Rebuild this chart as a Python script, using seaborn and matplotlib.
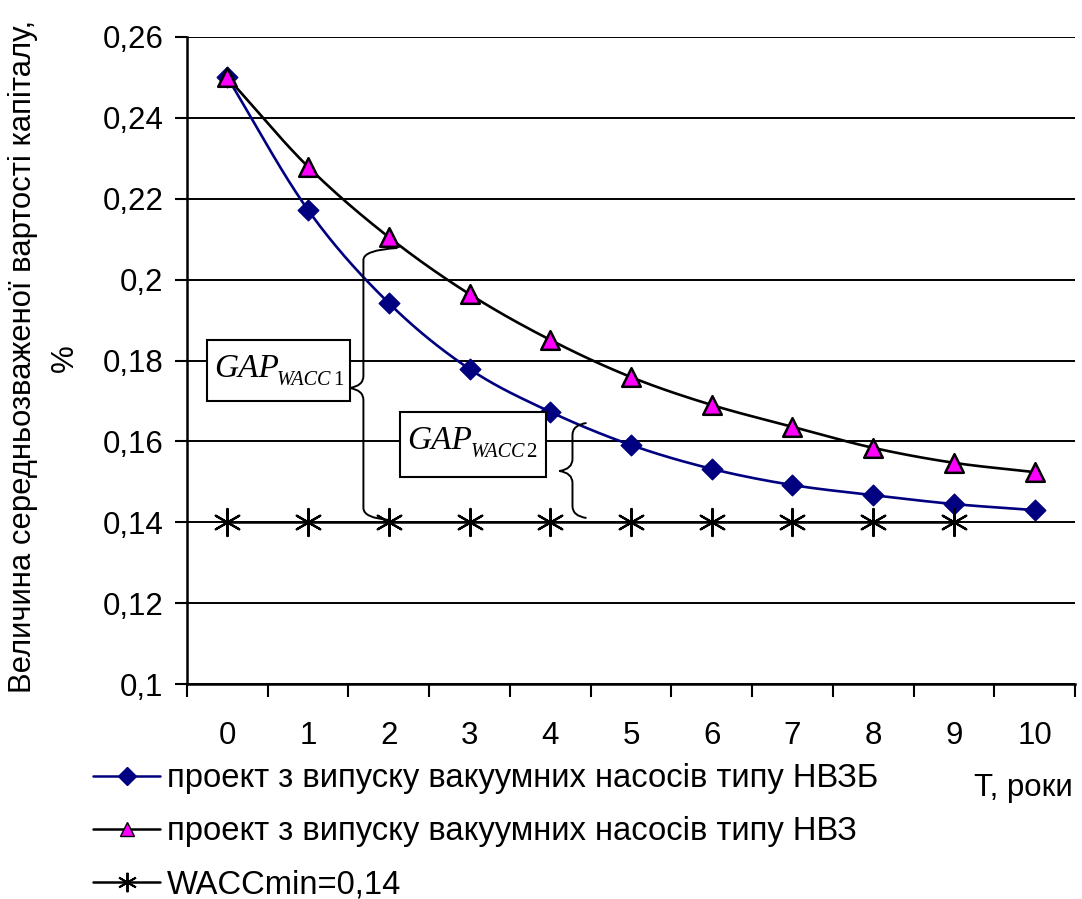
import numpy as np
import pandas as pd
import matplotlib
matplotlib.use("Agg")
import matplotlib.pyplot as plt
import seaborn as sns
from matplotlib.lines import Line2D
from matplotlib.path import Path
from matplotlib.patches import PathPatch
from matplotlib.ticker import FuncFormatter, FixedLocator

# ---- data ----
years = [0, 1, 2, 3, 4, 5, 6, 7, 8, 9, 10]
nvzb = [0.250, 0.2172, 0.1942, 0.1779, 0.1673, 0.1591, 0.1532, 0.1492, 0.1467, 0.1445, 0.1430]
nvz = [0.250, 0.2279, 0.2105, 0.1964, 0.1851, 0.1759, 0.1690, 0.1636, 0.1584, 0.1547, 0.1524]
wacc_years = [0, 1, 2, 3, 4, 5, 6, 7, 8, 9]
wacc = [0.14] * 10
label_nvzb = "проект з випуску вакуумних насосів типу НВЗБ"
label_nvz = "проект з випуску вакуумних насосів типу НВЗ"
label_wacc = "WACCmin=0,14"
ylabel_1 = "Величина середньозваженої вартості капіталу,"
ylabel_2 = "%"
xlabel = "T, роки"
yticks = [0.10, 0.12, 0.14, 0.16, 0.18, 0.20, 0.22, 0.24, 0.26]

sns.set_theme(style="white")
plt.rcParams['font.family'] = ['Liberation Sans', 'DejaVu Sans']
plt.rcParams['text.color'] = 'black'
plt.rcParams['xtick.color'] = 'black'
plt.rcParams['ytick.color'] = 'black'

FS = 22.5
FSL = 23.6
fig = plt.figure(figsize=(10.82, 8.99), dpi=100)
ax = fig.add_axes([187/1082, 1-684/899, (1075-187)/1082, (684-37)/899])


def smooth(x, y, n=20):
    x = np.asarray(x, float); y = np.asarray(y, float)
    px = np.concatenate([[2*x[0]-x[1]], x, [2*x[-1]-x[-2]]])
    py = np.concatenate([[2*y[0]-y[1]], y, [2*y[-1]-y[-2]]])
    xs, ys = [], []
    for i in range(1, len(px)-2):
        t = np.linspace(0, 1, n, endpoint=False)
        for arr, out in ((px, xs), (py, ys)):
            p0, p1, p2, p3 = arr[i-1], arr[i], arr[i+1], arr[i+2]
            out.extend(0.5*((2*p1) + (-p0+p2)*t + (2*p0-5*p1+4*p2-p3)*t**2 + (-p0+3*p1-3*p2+p3)*t**3))
    xs.append(x[-1]); ys.append(y[-1])
    return np.array(xs), np.array(ys)

ax.set_ylim(0.10, 0.26)
ax.set_xlim(-0.5, 10.5)
ax.yaxis.set_major_locator(FixedLocator(yticks))
ax.grid(axis='y', color='black', lw=1.4)
ax.grid(axis='x', visible=False)
ax.set_axisbelow(True)

sx, sy = smooth(years, nvzb)
ax.plot(sx, sy, color='#000080', lw=1.9, zorder=3)
sx, sy = smooth(years, nvz)
ax.plot(sx, sy, color='black', lw=1.9, zorder=3)
ax.plot(wacc_years, wacc, color='black', lw=1.8, zorder=3)

df1 = pd.DataFrame({'x': years, 'y': nvzb})
df2 = pd.DataFrame({'x': years, 'y': nvz})
df3 = pd.DataFrame({'x': wacc_years, 'y': wacc})
sns.scatterplot(data=df1, x='x', y='y', ax=ax, marker='D', s=110, color='#000080',
                edgecolor='#000080', linewidth=1, zorder=4)
sns.scatterplot(data=df2, x='x', y='y', ax=ax, marker='^', s=180, color='#FF00FF',
                edgecolor='black', linewidth=1.8, zorder=5)
sns.scatterplot(data=df3, x='x', y='y', ax=ax, marker=(6, 2, 0), s=380, color='black',
                edgecolor='black', linewidth=1.6, zorder=4)

for s in ['top', 'right']:
    ax.spines[s].set_visible(False)
for s in ['left', 'bottom']:
    ax.spines[s].set_color('black')
    ax.spines[s].set_linewidth(1.8)
ax.yaxis.set_major_formatter(FuncFormatter(lambda v, p: f"{v:g}".replace('.', ',')))
ax.tick_params(axis='y', which='major', direction='out', length=9, width=1.5, color='black',
               labelsize=FS, pad=8, left=True)
ax.xaxis.set_major_locator(FixedLocator(years))
ax.set_xticks(np.arange(-0.5, 11, 1), minor=True)
ax.set_xticklabels([str(v) for v in years])
ax.tick_params(axis='x', which='major', length=0, labelsize=FS, pad=27)
ax.tick_params(axis='x', which='minor', direction='out', length=9, width=1.5, color='black', bottom=True)
ax.set_xlabel('')
ax.set_ylabel('')

fig.text(23/1082, 1-356/899, ylabel_1, rotation=90, ha='center', va='center', fontsize=22.3)
fig.text(65/1082, 1-358/899, ylabel_2, rotation=90, ha='center', va='center', fontsize=FS)
fig.text(1023/1082, 1-788/899, xlabel, ha='center', va='center', fontsize=FS)

handles = [
    Line2D([0], [0], color='#000080', lw=1.8, marker='D', markersize=9, markerfacecolor='#000080', markeredgecolor='#000080'),
    Line2D([0], [0], color='black', lw=1.8, marker='^', markersize=10, markerfacecolor='#FF00FF', markeredgecolor='black'),
    Line2D([0], [0], color='black', lw=1.8, marker=(6, 2, 0), markersize=14, markeredgecolor='black', markeredgewidth=1.4),
]
fig.legend(handles, [label_nvzb, label_nvz, label_wacc], loc='upper left',
           bbox_to_anchor=(93/1082, 1-763/899), frameon=False, fontsize=FSL,
           handlelength=2.05, handletextpad=0.2, labelspacing=0.68, borderaxespad=0,
           borderpad=0)


def to_data(px, py):
    return (px-228)/80.7, 0.1 + (684-py)/647*0.16


def box(x0, y0, x1, y1, gx, gy, num):
    (dx0, dy0), (dx1, dy1) = to_data(x0, y0), to_data(x1, y1)
    ax.add_patch(plt.Rectangle((dx0, dy1), dx1-dx0, dy0-dy1, facecolor='white',
                               edgecolor='black', lw=1.5, zorder=6))
    tx, ty = to_data(gx, gy)
    t1 = ax.text(tx, ty, "GAP", family='Liberation Serif', style='italic', fontsize=24,
                 ha='left', va='baseline', zorder=7)
    t2 = ax.annotate("WACC", xy=(1, 0), xycoords=t1, xytext=(-1.5, -1), textcoords='offset points',
                     family='Liberation Serif', style='italic', fontsize=14.5,
                     ha='left', va='baseline', zorder=7)
    ax.annotate(num, xy=(1, 0), xycoords=t2, xytext=(1, 0), textcoords='offset points',
                family='Liberation Serif', fontsize=15, ha='left', va='bottom', zorder=7)

box(208, 340, 351, 401, 215, 377, "1")
box(401, 412, 547, 477, 408, 449, "2")


def brace(xv, ytop, ybot, xend_top, xend_bot, xtip, ytip):
    r = 12
    verts = [
        (xend_top, ytop), (xv, ytop+2), (xv, ytop+r), (xv, ytop+r+8),
        (xv, ytip-r), (xv, ytip-2), (xtip, ytip),
        (xv, ytip+2), (xv, ytip+r),
        (xv, ybot-r-8), (xv, ybot-r), (xv, ybot-2), (xend_bot, ybot),
    ]
    codes = [Path.MOVETO, Path.CURVE3, Path.CURVE3, Path.LINETO,
             Path.LINETO, Path.CURVE3, Path.CURVE3,
             Path.CURVE3, Path.CURVE3,
             Path.LINETO, Path.LINETO, Path.CURVE3, Path.CURVE3]
    dv = [to_data(a, b) for a, b in verts]
    ax.add_patch(PathPatch(Path(dv, codes), facecolor='none', edgecolor='black', lw=1.4, zorder=5))

brace(364, 248, 520, 398, 390, 350, 388)
brace(573, 423, 518, 587, 587, 560, 471)

fig.savefig('out.png', dpi=100)
